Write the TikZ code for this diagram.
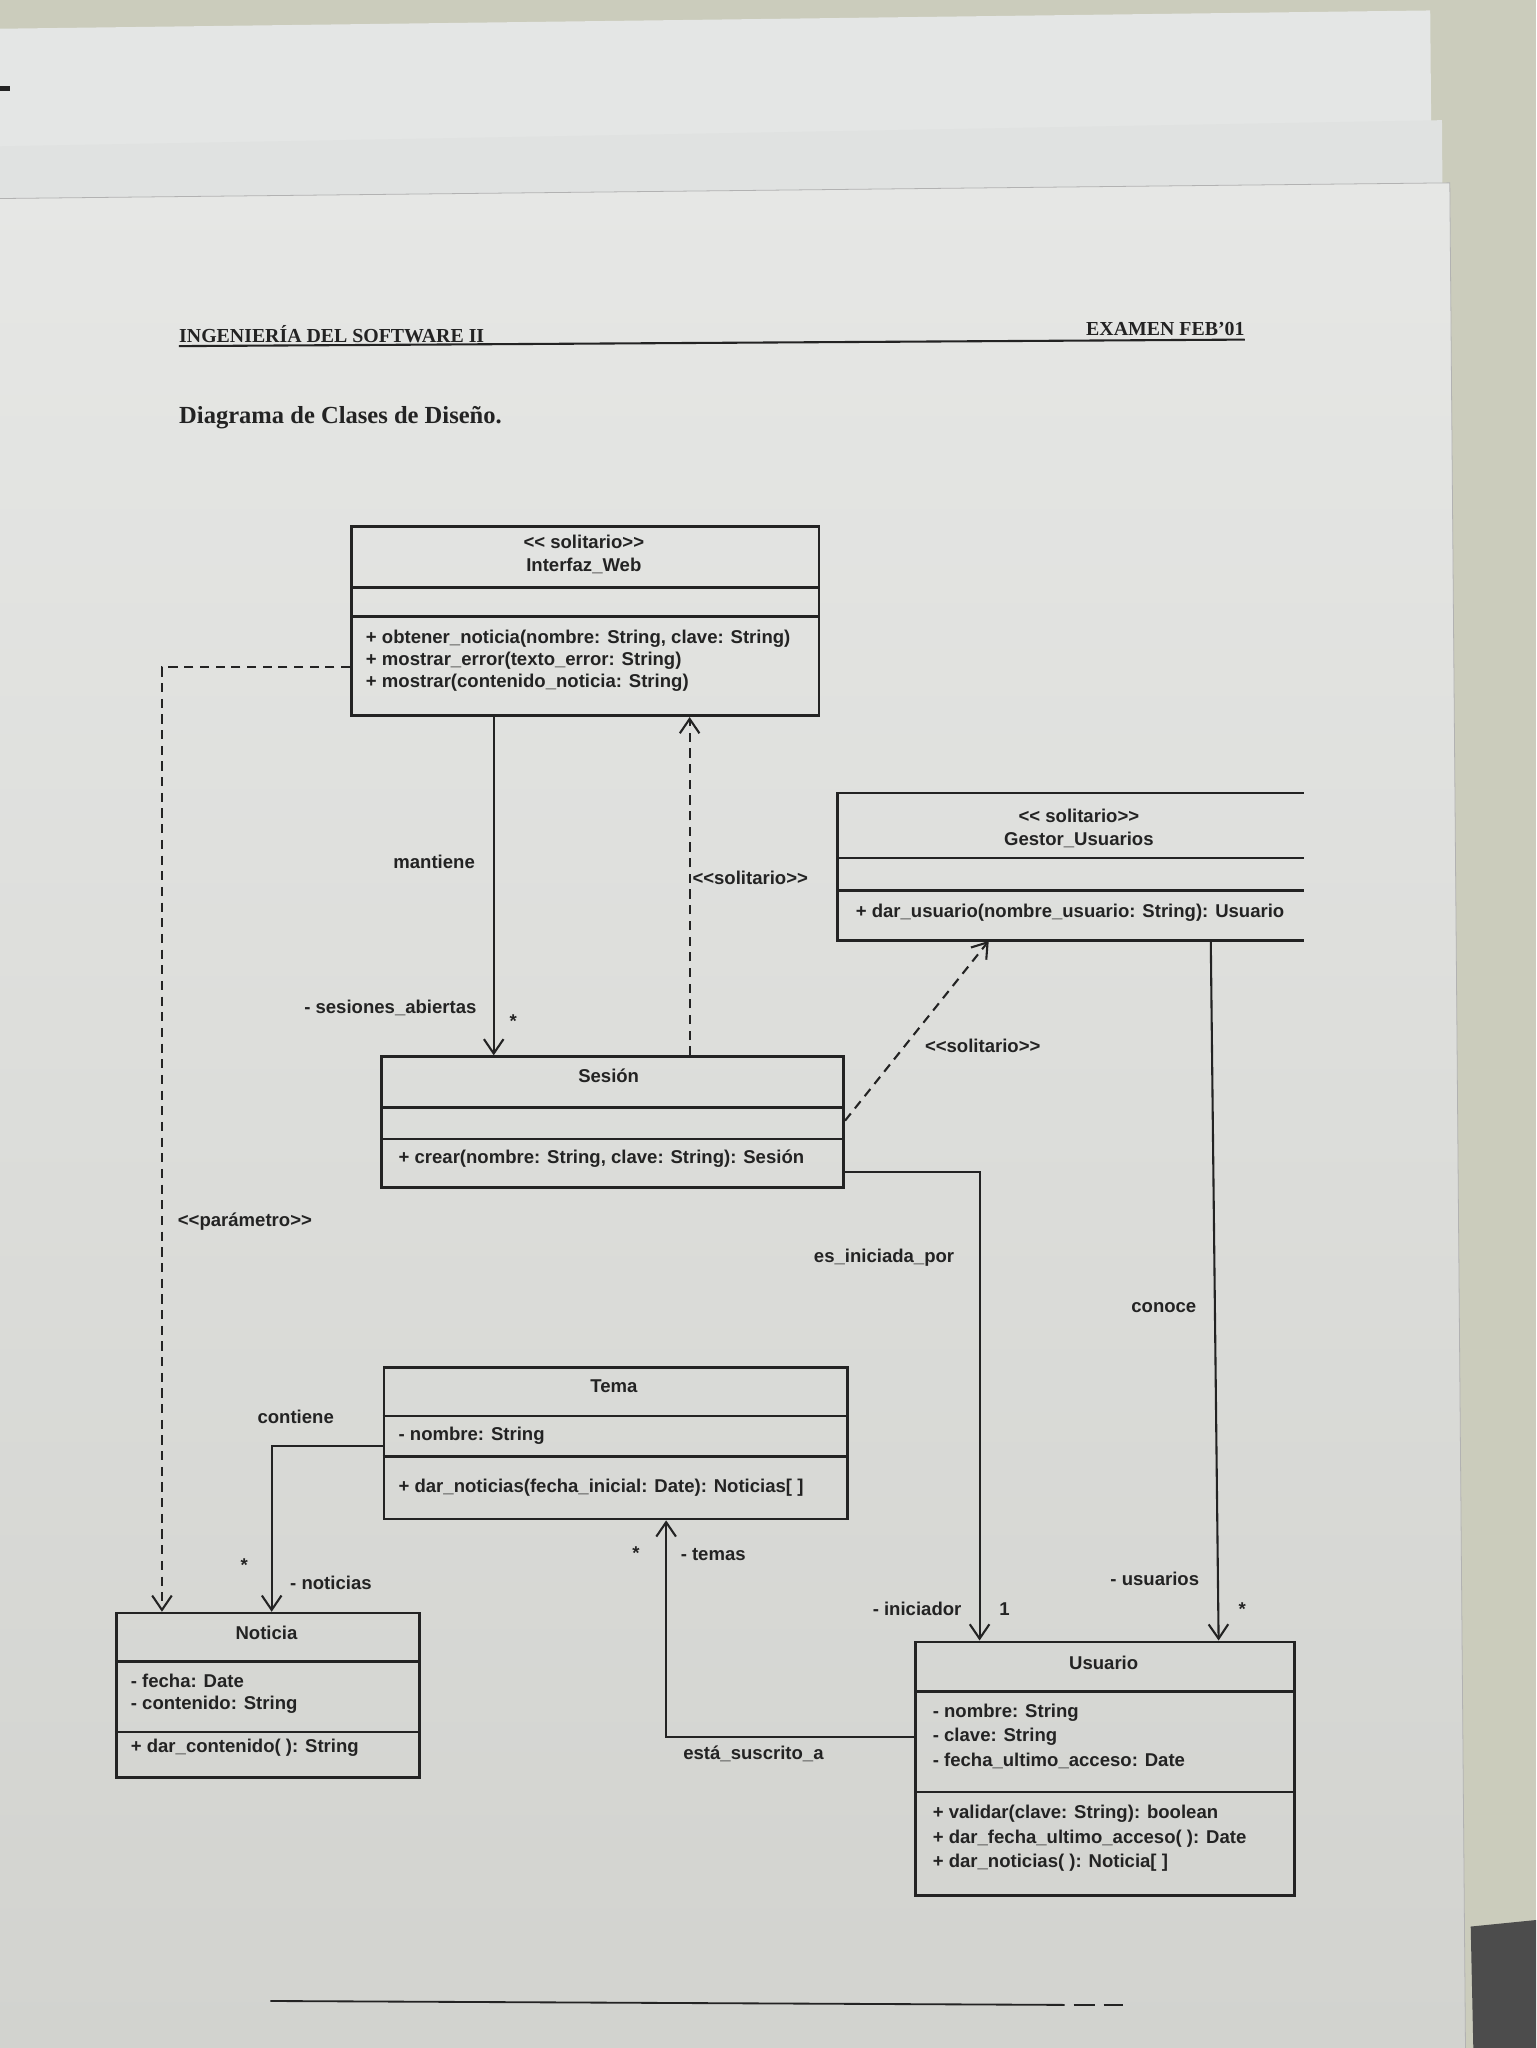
\documentclass[tikz,border=0pt]{standalone}
\usepackage{fontspec}
\setmainfont{Liberation Serif}
\newfontfamily\umlfont{Liberation Sans}
\usetikzlibrary{arrows.meta,calc}
\definecolor{ink}{HTML}{232323}
\definecolor{tablebg}{HTML}{CBCCBC}
\definecolor{sheetA}{HTML}{E4E6E5}
\definecolor{sheetB}{HTML}{E0E2E1}
\definecolor{pagetop}{HTML}{E6E7E5}
\definecolor{pagebot}{HTML}{D2D3CF}
\begin{document}
\begin{tikzpicture}[x=1pt,y=-1pt,
  umltext/.style={font=\umlfont\bfseries\fontsize{14.2}{17}\selectfont, text=ink, inner sep=0pt},
  classbox/.style={draw=ink, line width=2pt, inner sep=0pt, anchor=north west},
  classline/.style={draw=ink, line width=2pt},
  conn/.style={draw=ink, line width=1.6pt},
  dashconn/.style={conn, dash pattern=on 7pt off 5pt},
  openhead/.style={-{Straight Barb[length=11pt,width=15pt,line width=1.6pt]}},
  hdr/.style={font=\bfseries\fontsize{15.2}{17}\selectfont, text=ink, inner sep=0pt}
]
% ---------- background (photo of paper stack) ----------
\useasboundingbox (0,0) rectangle (1176,1568);
\fill[tablebg] (0,0) rectangle (1176,1568);
\fill[sheetA] (0,22) -- (1095,8) -- (1108,1568) -- (0,1568) -- cycle;
\fill[sheetB] (0,112) -- (1104,92) -- (1114,1568) -- (0,1568) -- cycle;
\shade[top color=pagetop, bottom color=pagebot] (0,152) -- (1110,140) -- (1122,1568) -- (0,1568) -- cycle;
\draw[gray!60, line width=0.6pt] (0,152) -- (1110,140) -- (1122,1568);
\fill[black!70] (1126,1475) -- (1176,1470) -- (1176,1568) -- (1128,1568) -- cycle;
\fill[ink] (0,66) rectangle (8,70);

% ---------- header ----------
\node[hdr, anchor=base west] (hl) at (137,262) {INGENIERÍA DEL SOFTWARE II};
\node[hdr, anchor=base east] (hr) at (953,257) {EXAMEN FEB'01};
\draw[ink, line width=1.6pt] (137,265) -- (953,260);
\node[font=\bfseries\fontsize{18.8}{20}\selectfont, text=ink, inner sep=0pt, anchor=base west] (title) at (137,324) {Diagrama de Clases de Diseño.};

% ---------- Interfaz_Web ----------
\node[classbox, minimum width=358pt, minimum height=145pt] (iw) at (268,402) {};
\draw[classline] (268,450) -- (626,450);
\draw[classline] (268,472) -- (626,472);
\node[umltext] (iwst) at (447,415) {<< solitario>>};
\node[umltext] (iwname) at (447,433) {Interfaz\_Web};
\node[umltext, anchor=west] (iwm1) at (280,489) {+ obtener\_noticia(nombre: String, clave: String)};
\node[umltext, anchor=west] (iwm2) at (280,506) {+ mostrar\_error(texto\_error: String)};
\node[umltext, anchor=west] (iwm3) at (280,523) {+ mostrar(contenido\_noticia: String)};

% ---------- Gestor_Usuarios (cut at the right edge) ----------
\node[inner sep=0pt, minimum width=357pt, minimum height=113pt, anchor=north west] (gu) at (641,607) {};
\draw[classline] (998,607) -- (641,607) -- (641,720) -- (998,720);
\draw[classline] (641,657) -- (998,657);
\draw[classline] (641,682) -- (998,682);
\node[umltext] (gust) at (826,625) {<< solitario>>};
\node[umltext] (guname) at (826,643) {Gestor\_Usuarios};
\begin{scope}
\clip (641,600) rectangle (998,725);
\node[umltext, anchor=west] (gum1) at (655,699) {+ dar\_usuario(nombre\_usuario: String): Usuario};
\end{scope}

% ---------- Sesión ----------
\node[classbox, minimum width=354pt, minimum height=100pt] (ses) at (291,808) {};
\draw[classline] (291,848) -- (645,848);
\draw[classline] (291,872) -- (645,872);
\node[umltext] (sesname) at (466,824) {Sesión};
\node[umltext, anchor=west] (sesm1) at (305,887) {+ crear(nombre: String, clave: String): Sesión};

% ---------- Tema ----------
\node[classbox, minimum width=355pt, minimum height=116pt] (tema) at (293,1046) {};
\draw[classline] (293,1084) -- (648,1084);
\draw[classline] (293,1115) -- (648,1115);
\node[umltext] (temaname) at (470,1061) {Tema};
\node[umltext, anchor=west] (temaa1) at (305,1099) {- nombre: String};
\node[umltext, anchor=west] (temam1) at (305,1139) {+ dar\_noticias(fecha\_inicial: Date): Noticias[ ]};

% ---------- Noticia ----------
\node[classbox, minimum width=232pt, minimum height=126pt] (not) at (88,1234) {};
\draw[classline] (88,1272) -- (320,1272);
\draw[classline] (88,1326) -- (320,1326);
\node[umltext] (notname) at (204,1250) {Noticia};
\node[umltext, anchor=west] (nota1) at (100,1287) {- fecha: Date};
\node[umltext, anchor=west] (nota2) at (100,1305) {- contenido: String};
\node[umltext, anchor=west] (notm1) at (100,1338) {+ dar\_contenido( ): String};

% ---------- Usuario ----------
\node[classbox, minimum width=290pt, minimum height=194pt] (usu) at (700,1256) {};
\draw[classline] (700,1295) -- (990,1295);
\draw[classline] (700,1372) -- (990,1372);
\node[umltext] (usuname) at (845,1273) {Usuario};
\node[umltext, anchor=west] (usua1) at (714,1311) {- nombre: String};
\node[umltext, anchor=west] (usua2) at (714,1330) {- clave: String};
\node[umltext, anchor=west] (usua3) at (714,1348) {- fecha\_ultimo\_acceso: Date};
\node[umltext, anchor=west] (usum1) at (714,1389) {+ validar(clave: String): boolean};
\node[umltext, anchor=west] (usum2) at (714,1408) {+ dar\_fecha\_ultimo\_acceso( ): Date};
\node[umltext, anchor=west] (usum3) at (714,1426) {+ dar\_noticias( ): Noticia[ ]};

% ---------- connectors ----------
% <<parametro>>: Interfaz_Web -> Noticia
\draw[dashconn, openhead] (iw.west |- 0,511) -| (not.north -| 124,0);
\node[umltext, anchor=west] (lpar) at (136,935) {<<parámetro>>};
% mantiene: Interfaz_Web -> Sesion
\draw[conn, openhead] (iw.south -| 378,0) -- (ses.north -| 378,0);
\node[umltext, anchor=west] (lman) at (301,660) {mantiene};
\node[umltext, anchor=east] (lsab) at (365,772) {- sesiones\_abiertas};
\node[umltext] (msab) at (393,782) {*};
% <<solitario>>: Sesion -> Interfaz_Web
\draw[dashconn, openhead] (ses.north -| 528,0) -- (iw.south -| 528,0);
\node[umltext, anchor=west] (lsol1) at (530,672) {<<solitario>>};
% <<solitario>>: Sesion -> Gestor_Usuarios
\draw[dashconn, openhead] (ses.east |- 0,858) -- (gu.south -| 757,0);
\node[umltext, anchor=west] (lsol2) at (708,801) {<<solitario>>};
% es_iniciada_por: Sesion -> Usuario
\draw[conn, openhead] (ses.east |- 0,897) -| (usu.north -| 750,0);
\node[umltext, anchor=west] (lini) at (623,963) {es\_iniciada\_por};
\node[umltext, anchor=west] (liniciador) at (668,1232) {- iniciador};
\node[umltext] (mini) at (769,1232) {1};
% conoce: Gestor_Usuarios -> Usuario
\draw[conn, openhead] (gu.south -| 927,0) -- (usu.north -| 933,0);
\node[umltext, anchor=west] (lcon) at (866,1001) {conoce};
\node[umltext, anchor=west] (lusu) at (850,1209) {- usuarios};
\node[umltext] (musu) at (951,1232) {*};
% contiene: Tema -> Noticia
\draw[conn, openhead] (tema.west |- 0,1107) -| (not.north -| 208,0);
\node[umltext, anchor=west] (lcont) at (197,1085) {contiene};
\node[umltext, anchor=west] (lnot) at (222,1212) {- noticias};
\node[umltext] (mnot) at (187,1198) {*};
% esta_suscrito_a: Usuario -> Tema
\draw[conn, openhead] (usu.west |- 0,1330) -| (tema.south -| 510,0);
\node[umltext, anchor=west] (ltem) at (521,1190) {- temas};
\node[umltext] (mtem) at (487,1189) {*};
\node[umltext, anchor=west] (lsus) at (523,1343) {está\_suscrito\_a};

% ---------- footer rule ----------
\draw[ink, line width=1.4pt] (207,1532) -- (815,1535);
\draw[ink, line width=1pt] (822,1535) -- (838,1535) (845,1535) -- (860,1535);
\end{tikzpicture}
\end{document}
